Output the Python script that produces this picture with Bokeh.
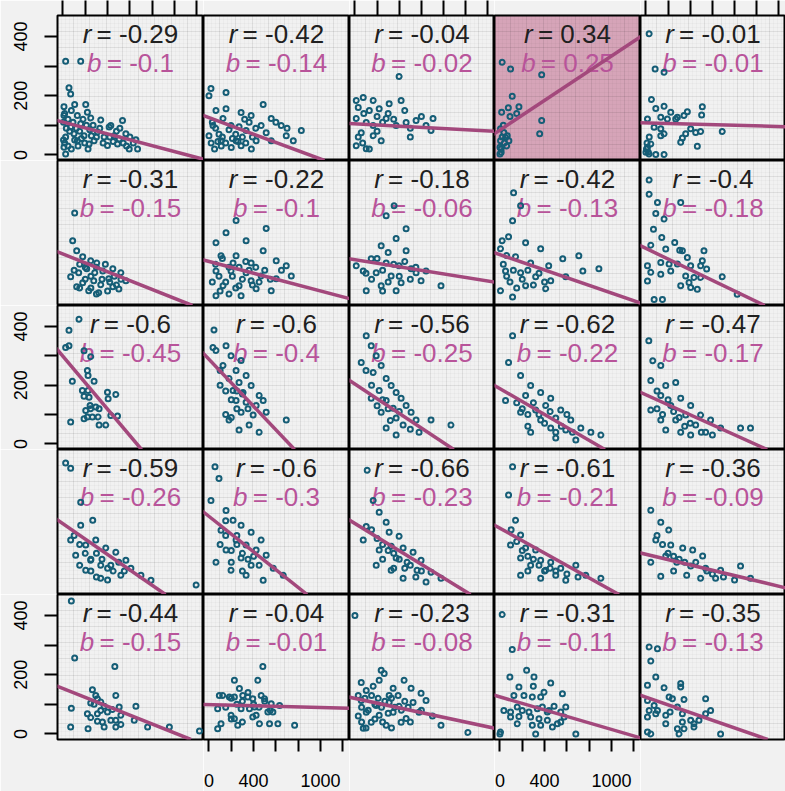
import numpy as np
from bokeh.plotting import figure
from bokeh.layouts import gridplot
from bokeh.models import Range1d, FixedTicker, Slope, LinearAxis
from bokeh.core.properties import value
from bokeh.embed import file_html
from bokeh.resources import INLINE

# ---------------- data ----------------
r_vals = [-0.29, -0.42, -0.04, 0.34, -0.01,
          -0.31, -0.22, -0.18, -0.42, -0.4,
          -0.6, -0.6, -0.56, -0.62, -0.47,
          -0.59, -0.6, -0.66, -0.61, -0.36,
          -0.44, -0.04, -0.23, -0.31, -0.35]
b_vals = [-0.1, -0.14, -0.02, 0.25, -0.01,
          -0.15, -0.1, -0.06, -0.13, -0.18,
          -0.45, -0.4, -0.25, -0.22, -0.17,
          -0.26, -0.3, -0.23, -0.21, -0.09,
          -0.15, -0.01, -0.08, -0.11, -0.13]
a_vals = [111, 126, 105, 84, 108,
          155, 130, 136, 153, 174,
          298, 288, 204, 188, 167,
          220, 245, 221, 205, 117,
          153, 99, 120, 125, 124]

x_tick_vals = [0, 200, 400, 600, 800, 1000, 1200]
x_tick_text = ["0", "", "400", "", "", "1000", ""]
y_tick_vals = [0, 100, 200, 300, 400]
y_tick_text = ["0", "", "200", "", "400"]

p11x = [9,105,204,9,129,219,339,249,429,534,564,654,669,594,489,399,369,279,189,99,24,9,24,69,159,129,234,309,459,504,414,24,159,54,69,
        15,45,75,30,60,90,120,150,180,210,240,270,300,330,360,420,450,480,510,540,570,600,630,15,45,75,105,135,165,195,225,255,5,5]
p11y = [163,170,170,133,133,144,118,125,99,116,71,51,20,20,37,32,60,48,65,71,60,26,3,94,105,48,37,77,65,54,94,316,316,227,206,
        140,120,150,90,80,110,90,80,120,100,85,100,60,90,40,60,45,80,90,40,30,60,40,40,30,20,50,30,55,40,20,65,50,110]
p12x = [18,0,153,63,153,288,378,486,558,468,333,243,108,423,558,693,756,828,648,198,36,126,0,513,288,
        30,60,90,120,150,180,210,240,270,300,330,360,390,420,20,50,80,110,200,260,320,600,700,380]
p12y = [224,200,211,150,156,143,133,170,123,99,82,48,48,48,48,65,48,82,99,99,99,123,65,75,31,
        110,90,70,60,40,85,55,70,95,60,40,110,60,90,40,20,45,30,25,45,120,110,90,20]
p13x = [12,75,165,219,309,417,12,102,165,282,372,462,552,642,705,57,165,12,102,237,399,687,
        30,80,130,200,250,300,350,450,500,600,30,70,130,200,500]
p13y = [184,194,184,156,173,184,123,109,99,123,99,109,116,99,123,75,65,31,21,48,265,82,
        160,140,150,130,110,140,120,150,90,130,60,40,20,80,60]
p14x = [20,95,374,110,15,75,170,374,356,5,35,65,5,50,0,11,0,80,
        20,40,10,60,30,90,150]
p14y = [313,290,271,198,144,159,163,116,71,88,76,65,48,59,26,9,3,48,
        60,40,20,30,100,130,140]
p15x = [29,83,164,50,89,164,224,284,344,374,509,503,14,134,194,269,134,164,74,404,494,449,689,359,329,314,464,14,0,29,89,164,44,134,
        5,20,10,30]
p15y = [409,290,279,187,157,164,144,127,133,146,163,135,121,127,121,121,88,71,93,88,79,76,79,71,57,43,29,26,9,3,1,1,37,65,
        20,10,40,60]

p21x = [105,87,123,177,249,303,213,141,285,357,447,519,411,276,177,339,447,501,231,321,123,69,564,
        150,200,250,300,350,380,420,460,200,150,250,300,400,480,520,100]
p21y = [294,200,166,146,132,125,105,92,92,98,105,92,71,65,58,51,44,37,31,24,44,78,65,
        120,110,80,110,70,120,60,80,70,40,40,20,30,50,70,100]
p22x = [243,153,333,513,63,108,243,378,486,603,693,63,198,333,468,603,738,126,270,423,558,63,288,378,216,
        30,60,90,120,150,180,210,240,270,300,330,360,390,420,450,500,550,650,100,180]
p22y = [268,227,200,241,193,149,149,125,166,132,115,98,98,92,81,71,81,48,48,38,31,14,14,65,125,
        60,120,80,140,60,110,80,40,110,70,130,100,50,110,60,100,70,100,30,20]
p23x = [354,282,462,372,237,462,147,282,399,507,75,192,327,552,642,237,417,597,102,777,372,12,
        200,250,300,350,300,400,450,500,550,150,100,250]
p23y = [318,284,240,207,183,166,139,125,115,105,98,92,81,92,98,48,58,65,31,48,31,115,
        140,100,160,120,60,80,130,70,110,70,90,30]
p24x = [122,185,113,77,230,365,5,140,275,437,563,707,50,185,320,455,590,743,230,410,887,5,113,
        30,60,90,120,150,200,250,300,350,400,20,60]
p24y = [362,318,267,213,193,173,173,146,125,115,139,149,98,92,78,65,78,98,48,38,105,31,10,
        120,80,60,100,40,70,100,50,90,60,200,150]
p25x = [29,29,104,314,89,164,68,143,44,179,260,305,329,374,524,509,494,548,404,284,209,134,14,44,134,224,359,389,434,494,314,404,464,689,824,74,149,14]
p25y = [405,357,329,329,292,273,239,211,185,172,194,168,166,143,166,132,115,104,115,121,121,126,115,93,87,98,81,59,76,76,48,42,36,78,19,1,1,64]

p31x = [144,54,24,54,189,249,219,225,84,279,174,225,189,234,399,474,405,243,294,324,249,204,219,264,189,315,69,324,384,489,429]
p31y = [424,387,328,334,317,297,250,233,213,213,182,182,162,159,176,168,154,131,126,120,120,114,92,92,86,92,75,64,64,95,97]
p32x = [45,36,63,153,198,126,243,288,180,270,333,216,306,378,450,243,333,423,486,288,396,180,513,693,360,270,450,
        100,150,200,250,300,350,150,200,250,100]
p32y = [388,328,318,334,300,267,250,284,223,209,233,182,175,199,165,148,142,131,148,108,98,81,108,81,64,47,40,
        200,180,150,120,170,120,100,90,180,250]
p33x = [102,147,192,57,237,165,282,327,219,372,417,282,147,462,345,507,237,372,552,435,282,579,372,687,867,
        100,150,250,300,200,400,500,320]
p33y = [368,334,300,277,267,243,223,199,182,175,155,148,155,131,121,108,108,88,81,64,54,40,30,81,64,
        250,200,150,120,130,110,50,80]
p34x = [113,77,185,275,365,230,455,410,320,545,500,635,365,455,590,725,815,185,905,275,500,680,50,
        150,200,250,300,350,400,450,500,550,600,650,250]
p34y = [368,277,233,199,175,165,155,131,115,115,88,81,81,54,47,54,40,108,30,40,20,13,148,
        140,120,100,140,100,70,110,40,60,100,40,60]
p35x = [26,62,134,44,179,269,134,314,224,404,359,494,269,449,584,134,44,674,539,404,854,944,179,314,
        100,150,200,250,300,350,400,500,600,100]
p35y = [351,283,267,216,199,209,165,155,131,131,98,98,81,64,81,81,115,54,40,30,54,54,47,40,
        120,100,150,110,90,60,70,40,30,180]

p41x = [24,69,159,159,267,69,204,294,384,474,114,249,339,429,564,609,204,519,699,339,789,1194,
        100,150,200,250,300,350,400,450,500,550,150,250,300,400]
p41y = [425,408,293,215,232,165,148,165,138,124,114,97,80,80,97,70,63,46,46,36,29,13,
        180,150,120,100,120,100,70,60,90,60,80,60,40,30]
p42x = [54,90,18,153,216,108,288,378,243,333,468,423,153,288,513,378,576,198,666,486,333,63,
        100,150,200,250,300,350,400,450,200,300,250,150]
p42y = [413,373,299,265,232,198,215,191,165,148,165,131,131,104,114,80,70,63,46,29,46,90,
        150,180,130,150,120,100,110,80,90,60,180,230]
p43x = [111,165,219,282,102,309,399,327,435,525,219,372,471,597,561,687,327,435,777,642,192,75,
        150,200,250,300,350,400,450,500,250,350,550,600]
p43y = [401,299,259,225,211,191,178,144,138,124,131,104,90,97,63,56,63,36,36,23,80,165,
        200,170,150,130,120,100,70,80,100,70,40,60]
p44x = [113,77,140,185,95,230,320,185,365,455,275,410,545,680,500,365,770,905,185,590,
        100,150,200,250,300,350,400,450,500,600,250,700]
p44y = [413,317,232,182,148,138,131,104,97,90,80,63,70,80,46,36,46,36,46,29,
        200,160,130,110,100,80,60,70,60,50,60,40]
p45x = [44,134,206,89,224,332,422,179,512,278,404,539,44,674,368,494,854,134,629,944,
        100,150,200,250,300,350,450,550,600,700,800,250]
p45y = [266,225,199,165,148,138,131,111,111,90,77,70,90,63,46,36,77,43,36,36,
        180,150,120,110,100,90,90,60,50,40,30,60]

p51x = [75,105,465,75,264,294,309,249,279,339,369,219,249,309,339,399,474,444,504,519,474,429,354,309,369,225,69,474,519,639,654,759,954,1224]
p51y = [449,256,228,87,149,130,119,104,100,108,93,68,55,68,79,74,130,82,91,63,46,46,40,43,23,17,23,23,32,46,93,23,23,10]
p52x = [93,123,78,228,273,183,228,303,348,393,438,483,468,498,288,363,408,528,573,198,228,258,393,423,453,543,618,768,108,78,558,633,
        150,200,250,300,350,400,450,500,550,300,200]
p52y = [130,130,85,181,153,125,125,130,125,119,181,228,130,119,85,85,91,74,74,63,51,29,57,63,34,34,34,29,34,17,102,96,
        90,120,100,110,140,100,90,110,80,40,50]
p53x = [0,237,264,219,444,597,777,1020,57,102,165,309,345,507,57,192,309,399,525,642,102,219,345,462,579,147,282,417,75,
        30,60,90,120,150,180,210,240,270,300,330,360,390,420,450,480,30,60,100,180,250,330,500,600,700]
p53y = [400,215,204,181,181,137,29,5,174,147,161,130,154,154,113,96,106,93,106,113,73,63,73,52,73,39,29,39,19,
        130,90,120,80,130,100,120,90,110,70,120,90,130,80,110,90,60,40,20,50,40,20,40,80,60]
p54x = [20,110,89,239,305,299,455,560,170,125,215,290,365,395,35,95,155,200,260,335,380,440,485,545,590,95,170,275,350,425,515,155,290,365,470,0,320,680,5,545,425,575]
p54y = [403,285,192,215,192,161,172,136,158,130,130,125,125,141,79,74,91,79,74,85,91,79,93,74,91,57,59,57,51,46,34,34,29,29,23,0,0,0,6,40,74,57]
p55x = [29,104,44,89,14,164,314,314,209,239,344,14,74,104,29,14,179,218,284,329,329,284,344,404,434,479,539,584,539,179,299,14,44,674,434,89]
p55y = [294,288,246,192,164,156,170,158,125,119,116,113,96,79,79,57,63,74,91,68,40,17,17,46,34,46,68,79,119,34,0,6,0,0,23,68]

panel_x = [p11x, p12x, p13x, p14x, p15x, p21x, p22x, p23x, p24x, p25x,
           p31x, p32x, p33x, p34x, p35x, p41x, p42x, p43x, p44x, p45x,
           p51x, p52x, p53x, p54x, p55x]
panel_y = [p11y, p12y, p13y, p14y, p15y, p21y, p22y, p23y, p24y, p25y,
           p31y, p32y, p33y, p34y, p35y, p41y, p42y, p43y, p44y, p45y,
           p51y, p52y, p53y, p54y, p55y]

# ---------------- styling / layout ----------------
X0, X1 = -49, 1260
Y0, Y1 = -19, 471
FWS = [146, 146, 145, 146, 145]
FHS = [145, 145, 144, 145, 145]
LEFT, TOP, BOTTOM = 57, 15, 52
FONT = "Liberation Sans"
PT_COLOR = "#155d76"
LINE_COLOR = "#a3487c"
R_COLOR = "#202020"
B_COLOR = "#b8549a"
BG = "#f1f1f1"
HL = "#d6a4b8"
TXT = 26

CW = {'0': .556, '1': .556, '2': .556, '3': .556, '4': .556, '5': .556, '6': .556,
      '7': .556, '8': .556, '9': .556, '-': .333, '.': .278, '=': .584, ' ': .278,
      'r': .333, 'b': .556}


def tw(s):
    return sum(CW.get(ch, .556) for ch in s) * TXT


def fmt(v):
    return f"{v:g}"


def style_axis(ax, visible):
    ax.axis_line_color = None
    ax.minor_tick_line_color = None
    ax.major_tick_in = 0
    ax.major_tick_line_width = 2
    ax.major_tick_line_color = "black" if visible else None
    ax.major_label_text_font = FONT
    ax.major_label_text_font_size = "18px"
    ax.major_label_text_color = "black" if visible else None


def make_panel(i):
    row, col = divmod(i, 5)
    fw, fh = FWS[col], FHS[row]
    p = figure(frame_width=fw, frame_height=fh,
               x_range=Range1d(X0, X1), y_range=Range1d(Y0, Y1),
               x_axis_location=None, y_axis_location=None,
               output_backend="svg", toolbar_location=None, min_border=0)
    p.min_border_left = LEFT if col == 0 else 0
    p.min_border_top = TOP if row == 0 else 0
    p.min_border_bottom = BOTTOM if row == 4 else 0
    p.background_fill_color = HL if r_vals[i] > 0 else BG
    p.border_fill_color = BG
    p.outline_line_color = "black"
    p.outline_line_width = 2

    nx, ny = round(fw / 16), round(fh / 16)
    p.xgrid.ticker = FixedTicker(ticks=list(np.linspace(X0, X1, nx + 1)),
                                 minor_ticks=list(np.linspace(X0, X1, 4 * nx + 1)))
    p.ygrid.ticker = FixedTicker(ticks=list(np.linspace(Y0, Y1, ny + 1)),
                                 minor_ticks=list(np.linspace(Y0, Y1, 4 * ny + 1)))
    for g in (p.xgrid, p.ygrid):
        g.grid_line_color = "black"
        g.grid_line_alpha = 0.06
        g.minor_grid_line_color = "black"
        g.minor_grid_line_alpha = 0.025

    if col == 0 and row % 2 == 0:
        ax = LinearAxis(ticker=FixedTicker(ticks=y_tick_vals),
                        major_label_overrides=dict(zip(y_tick_vals, y_tick_text)),
                        major_tick_out=13, major_label_standoff=17,
                        major_label_orientation="vertical")
        style_axis(ax, True)
        p.add_layout(ax, "left")
    if row == 0 and col % 2 == 0:
        ax = LinearAxis(ticker=FixedTicker(ticks=x_tick_vals),
                        major_tick_out=15, major_label_standoff=0)
        style_axis(ax, True)
        ax.major_label_text_color = None
        p.add_layout(ax, "above")
    if row == 4 and col % 2 == 1:
        ax = LinearAxis(ticker=FixedTicker(ticks=x_tick_vals),
                        major_label_overrides=dict(zip(x_tick_vals, x_tick_text)),
                        major_tick_out=12, major_label_standoff=22)
        style_axis(ax, True)
        p.add_layout(ax, "below")

    xc = (X0 + X1) / 2
    upp = (Y1 - Y0) / fh
    for sym, val, yoff, color in (("r", r_vals[i], 18, R_COLOR),
                                  ("b", b_vals[i], 47, B_COLOR)):
        rest = "= " + fmt(val)
        w_sym = CW[sym] * TXT
        gap = 0.2 * TXT
        total = w_sym + gap + tw(rest)
        start = -total / 2
        ypos = Y1 - yoff * upp
        p.text(x=[xc], y=[ypos], text=[sym], text_font=value(FONT),
               text_font_style="italic", text_font_size=f"{TXT}px",
               text_align="left", text_baseline="middle",
               x_offset=start, text_color=color)
        p.text(x=[xc], y=[ypos], text=[rest], text_font=value(FONT),
               text_font_size=f"{TXT}px", text_align="left",
               text_baseline="middle", x_offset=start + w_sym + gap,
               text_color=color)

    p.scatter(panel_x[i], panel_y[i], marker="circle", size=5,
              fill_color=None, line_color=PT_COLOR, line_width=2)
    p.add_layout(Slope(gradient=b_vals[i], y_intercept=a_vals[i],
                       line_color=LINE_COLOR, line_width=3.5))
    return p


panels = [make_panel(i) for i in range(25)]
grid = gridplot([panels[k * 5:(k + 1) * 5] for k in range(5)],
                toolbar_location=None)

open("out.html", "w").write(file_html(grid, INLINE))
